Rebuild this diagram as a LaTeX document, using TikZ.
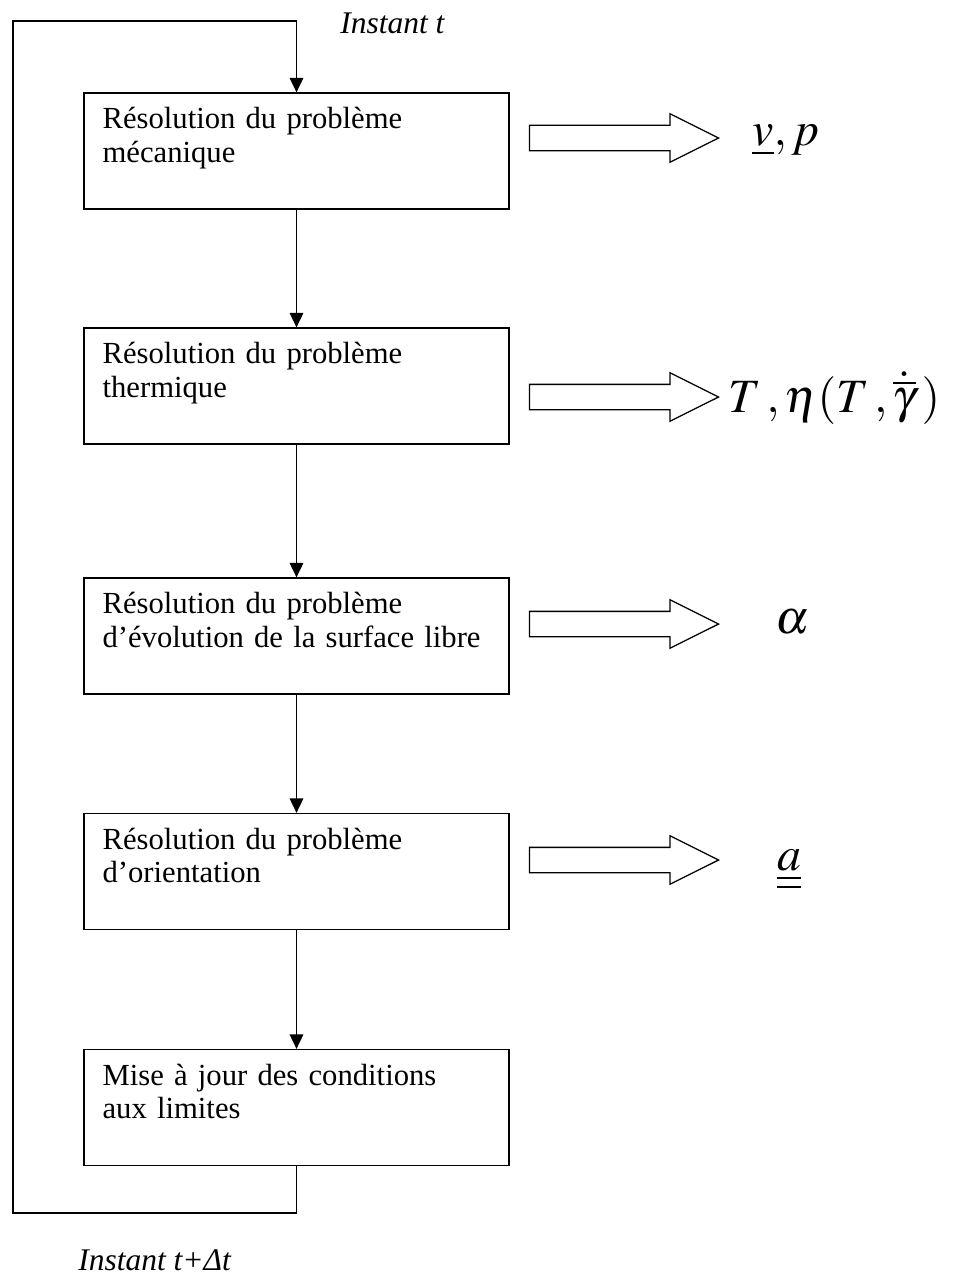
\documentclass[tikz,border=0pt]{standalone}
\usepackage{mathptmx}
\usepackage{fontspec}
\setmainfont{Liberation Serif}
\usetikzlibrary{arrows.meta,shapes.arrows}

\tikzset{
  etape/.style={draw, line width=0.9pt, minimum width=10.625cm, minimum height=2.9cm, inner sep=0pt},
  etapetxt/.style={anchor=north west, inner sep=0pt, text width=10cm, align=left,
    font=\fontsize{21.8}{23.8}\selectfont},
  fil/.style={line width=0.9pt},
  fleche/.style={fil, -{Triangle[length=0.36cm, width=0.34cm]}},
  sortie/.style={draw, line width=0.9pt, shape=single arrow, inner xsep=0pt, inner ysep=0.3cm,
    minimum height=4.725cm, single arrow head extend=0.29cm,
    single arrow tip angle=53, anchor=tip},
  resultat/.style={anchor=west, inner sep=0pt, font=\fontsize{34}{40}\selectfont},
  instant/.style={inner sep=0pt, font=\fontsize{22.4}{24}\selectfont\itshape}
}

\begin{document}
\begin{tikzpicture}[x=0.025cm, y=-0.025cm]
  \useasboundingbox (0,0) rectangle (954,1276);

  % les cinq etapes
  \node[etape] (meca) at (296.5,151) {};
  \node[etape] (therm) at (296.5,386) {};
  \node[etape] (surf) at (296.5,636) {};
  \node[etape] (orient) at (296.5,871.5) {};
  \node[etape] (maj) at (296.5,1107.5) {};

  \node[etapetxt] (mecatxt) at ([shift={(19,15)}]meca.north west) {R\'esolution du probl\`eme\\ m\'ecanique};
  \node[etapetxt] (thermtxt) at ([shift={(19,15)}]therm.north west) {R\'esolution du probl\`eme\\ thermique};
  \node[etapetxt] (surftxt) at ([shift={(19,15)}]surf.north west) {R\'esolution du probl\`eme\\ d'\'evolution de la surface libre};
  \node[etapetxt] (orienttxt) at ([shift={(19,15)}]orient.north west) {R\'esolution du probl\`eme\\ d'orientation};
  \node[etapetxt] (majtxt) at ([shift={(19,15)}]maj.north west) {Mise \`a jour des conditions\\ aux limites};

  \draw[fleche] (meca) -- (therm);
  \draw[fleche] (therm) -- (surf);
  \draw[fleche] (surf) -- (orient);
  \draw[fleche] (orient) -- (maj);

  % boucle en temps
  \coordinate (basgauche) at (13,1213);
  \coordinate (hautgauche) at (13,21);
  \draw[fleche] (maj.south) |- (basgauche) -- (hautgauche) -| (meca.north);

  \node[instant, anchor=base west] (instt) at (340,33) {Instant t};
  \node[instant, anchor=base west] (insttdt) at (78,1270) {Instant t+Δt};

  % grandeurs calculees
  \node[sortie] (smeca) at (720,138) {};
  \node[sortie] (stherm) at (720,397) {};
  \node[sortie] (ssurf) at (720,624) {};
  \node[sortie] (sorient) at (720,860) {};

  \node[resultat] (vp) at (752,140) {$\underline{v}, p$};
  \node[resultat] (eta) at (728,398) {$T\,, \eta(T\,, \dot{\overline{\gamma}}\,)$};
  \node[resultat] (alpha) at (775,622) {$\alpha$};
  \node[resultat] (aa) at (777,870) {$\underline{\underline{a}}$};
\end{tikzpicture}
\end{document}
